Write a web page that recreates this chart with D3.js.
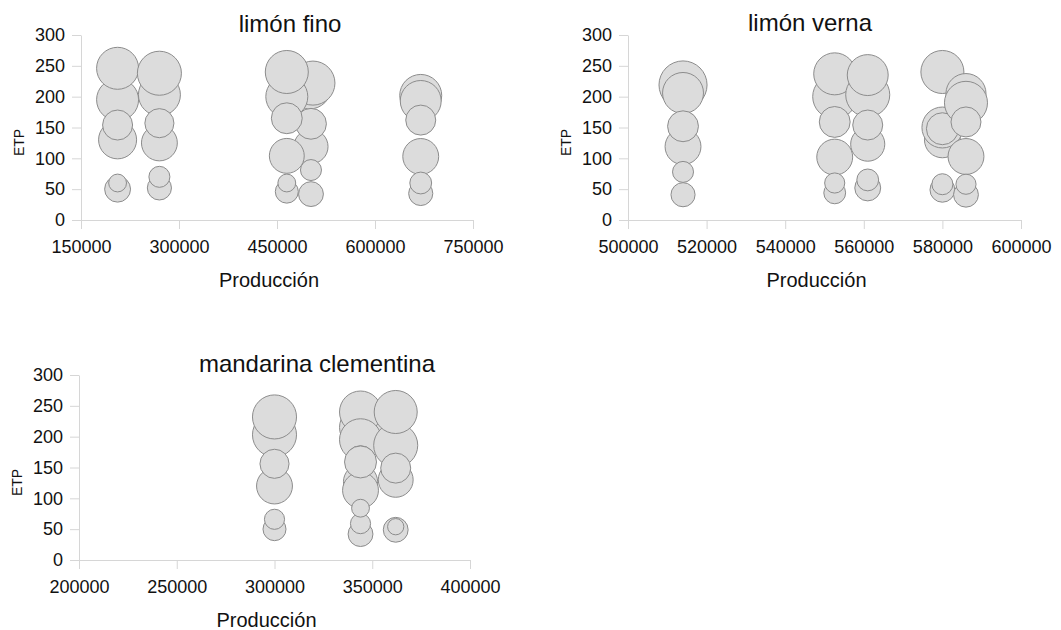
<!DOCTYPE html>
<html>
<head>
<meta charset="utf-8">
<script src="https://cdn.jsdelivr.net/npm/d3@7"></script>
<style>
  body { margin: 0; background: #fff; }
  text { font-family: "Liberation Sans", Arial, sans-serif; fill: #111; }
</style>
</head>
<body>
<div id="chart"></div>
<script>

// Y axis ticks (shared by all three panels)
const etpTicks = [0, 50, 100, 150, 200, 250, 300];

// limón fino
const finoProduccion = [206000, 206000, 206000, 206000, 206000, 206000,
                        270000, 270000, 270000, 270000, 270000, 270000,
                        500000, 505000, 502000, 502000, 502000, 502000,
                        465000, 465000, 465000, 465000, 465000, 465000,
                        670000, 670000, 670000, 670000, 670000, 670000];
const finoETP = [195, 246, 130, 154, 50, 60,
                 203, 238, 125, 157, 52, 70,
                 215, 222, 119, 156, 42, 81,
                 200, 240, 104, 165, 46, 60,
                 202, 193, 103, 162, 43, 60];
const finoTamano = [100, 100, 82, 51, 38, 18,
                    100, 110, 73, 48, 33, 25,
                    105, 110, 66, 54, 35, 25,
                    100, 105, 69, 54, 30, 18,
                    100, 95, 73, 51, 33, 27];
const finoTicks = [150000, 300000, 450000, 600000, 750000];

// limón verna
const vernaProduccion = [514000, 514000, 514000, 514000, 514000, 514000,
                         552600, 552600, 552600, 552600, 552600, 552600,
                         561000, 561000, 561000, 561000, 561000, 561000,
                         580000, 580000, 580000, 580000, 580000, 580000,
                         586000, 586000, 586000, 586000, 586000, 586000];
const vernaETP = [219, 206, 119, 152, 41, 78,
                  200, 237, 102, 159, 44, 60,
                  203, 235, 123, 154, 52, 65,
                  130, 150, 148, 240, 49, 58,
                  205, 190, 103, 159, 41, 58];
const vernaTamano = [131, 95, 73, 54, 33, 25,
                     110, 100, 73, 54, 27, 23,
                     110, 95, 66, 51, 38, 27,
                     73, 95, 58, 105, 35, 25,
                     91, 105, 73, 51, 35, 23];
const vernaTicks = [500000, 520000, 540000, 560000, 580000, 600000];

// mandarina clementina
const clemProduccion = [300000, 300000, 300000, 300000, 300000, 300000,
                        344000, 344000, 344000, 344000, 344000, 344000, 344000, 344000, 344000, 344000,
                        362000, 362000, 362000, 362000, 362000, 362000];
const clemETP = [203, 232, 120, 156, 50, 66,
                 215, 240, 195, 127, 113, 161, 159, 42, 59, 84,
                 186, 240, 130, 149, 49, 54];
const clemTamano = [110, 110, 73, 48, 30, 23,
                    100, 100, 100, 66, 73, 51, 58, 35, 23, 18,
                    110, 105, 69, 51, 35, 15];
const clemTicks = [200000, 250000, 300000, 350000, 400000];

const panels = [
  { title: "limón fino", prod: finoProduccion, etp: finoETP, size: finoTamano, ticks: finoTicks,
    left: 81, right: 473, top: 35, bottom: 220, titleX: 290, titleY: 32 },
  { title: "limón verna", prod: vernaProduccion, etp: vernaETP, size: vernaTamano, ticks: vernaTicks,
    left: 628, right: 1021, top: 35, bottom: 220, titleX: 810, titleY: 31 },
  { title: "mandarina clementina", prod: clemProduccion, etp: clemETP, size: clemTamano, ticks: clemTicks,
    left: 79, right: 470, top: 375, bottom: 560, titleX: 317, titleY: 372 }
];

const svg = d3.select("#chart").append("svg")
    .attr("width", 1061)
    .attr("height", 630);

// bubble radius from the size value
const r = d3.scaleSqrt().domain([0, 100]).range([0, 21]);

function drawPanel(p) {
  let x = d3.scaleLinear()
      .domain([p.ticks[0], p.ticks[p.ticks.length - 1]])
      .range([p.left, p.right]);
  let y = d3.scaleLinear()
      .domain([0, 300])
      .range([p.bottom, p.top]);

  let g = svg.append("g");

  let xAxis = g.append("g")
      .attr("transform", "translate(0," + p.bottom + ")")
      .call(d3.axisBottom(x).tickValues(p.ticks).tickFormat(d3.format("d"))
            .tickSize(9).tickSizeOuter(0).tickPadding(11));
  let yAxis = g.append("g")
      .attr("transform", "translate(" + p.left + ",0)")
      .call(d3.axisLeft(y).tickValues(etpTicks).tickSize(9).tickSizeOuter(0).tickPadding(7));

  [xAxis, yAxis].forEach(a => {
    a.selectAll("path, line").attr("stroke", "#d6d6d6");
    a.selectAll("text").style("font-size", "18px").attr("fill", "#111");
  });

  let pts = p.prod.map((v, i) => ({ prod: v, etp: p.etp[i], size: p.size[i] }));

  g.append("g").selectAll("circle")
      .data(pts)
    .enter().append("circle")
      .attr("cx", d => x(d.prod))
      .attr("cy", d => y(d.etp))
      .attr("r", d => r(d.size))
      .attr("fill", "#dcdcdc")
      .attr("stroke", "#8c8c8c")
      .attr("stroke-width", 1);

  g.append("text")
      .attr("x", p.titleX)
      .attr("y", p.titleY)
      .attr("text-anchor", "middle")
      .style("font-size", "24px")
      .text(p.title);

  g.append("text")
      .attr("x", (p.left + p.right) / 2 - 8)
      .attr("y", p.bottom + 67)
      .attr("text-anchor", "middle")
      .style("font-size", "20px")
      .text("Producción");

  g.append("text")
      .attr("transform", "translate(" + (p.left - 62) + "," + ((p.top + p.bottom) / 2 + 15) + ") rotate(-90)")
      .attr("dy", "0.35em")
      .attr("text-anchor", "middle")
      .style("font-size", "14px")
      .text("ETP");
}

panels.forEach(drawPanel);

</script>
</body>
</html>
